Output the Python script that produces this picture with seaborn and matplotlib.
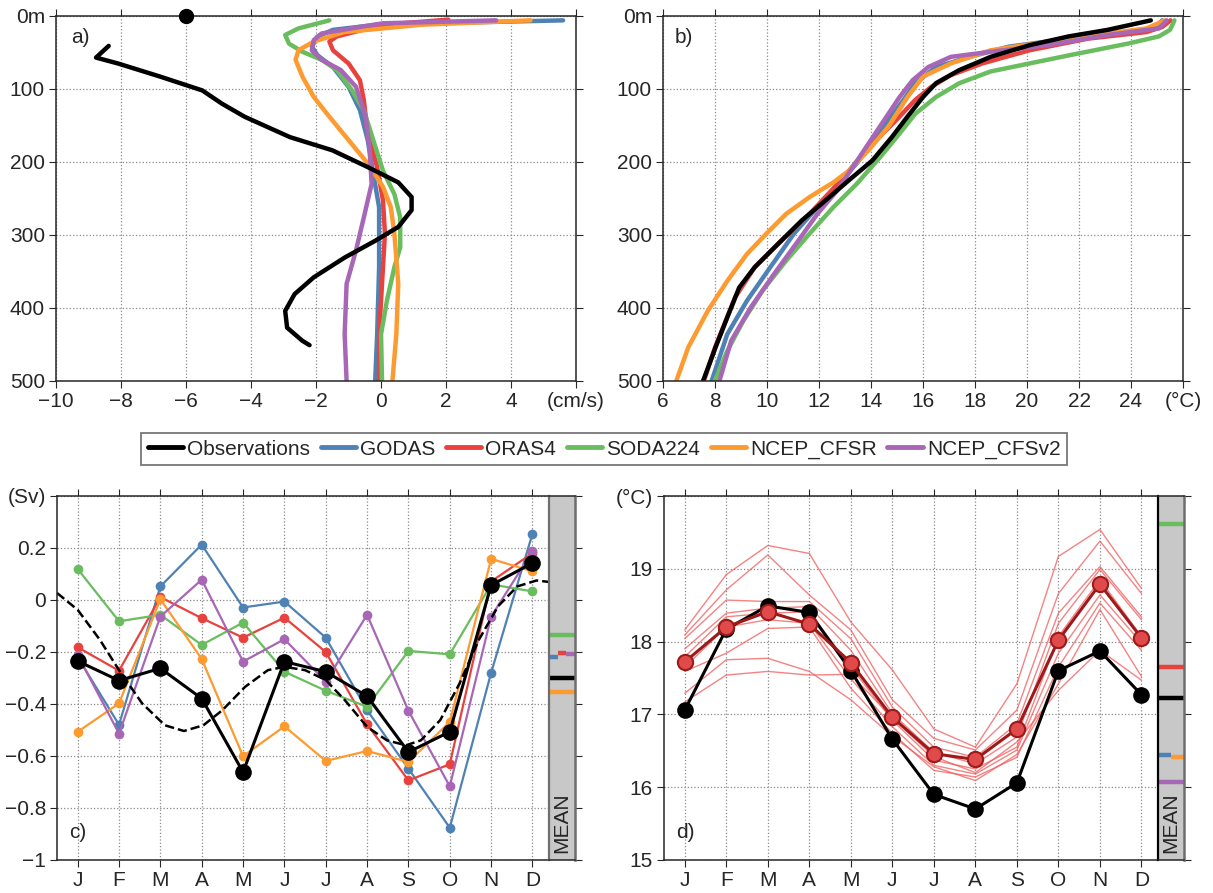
import numpy as np
import pandas as pd
import matplotlib
matplotlib.use('Agg')
import matplotlib.pyplot as plt
from matplotlib.lines import Line2D
import seaborn as sns

# ---- data ----
names = ['Observations', 'GODAS', 'ORAS4', 'SODA224', 'NCEP_CFSR', 'NCEP_CFSv2']
colors = ['black', '#4f82b4', '#e8423f', '#6abd5e', '#fd9a30', '#a866b6']

# a) velocity profiles (cm/s) vs depth (m)
obs_a_u = [-8.38, -8.77, -8.1, -6.8, -5.5, -4.9, -4.2, -2.8, -1.5, -0.41, 0.53, 0.94, 0.94, 0.53, -0.18, -1.12, -2.07, -2.66, -2.95, -2.89, -2.42, -2.2]
obs_a_z = [41, 57, 65, 83, 102, 120, 138, 166, 184, 207, 228, 248, 266, 289, 308, 331, 358, 381, 404, 427, 445, 451]
godas_a_u = [5.6, 3.6, 0.06, -1.48, -1.95, -2.13, -1.95, -1.48, -1.0, -0.65, -0.41, -0.24, -0.06, -0.06, -0.12, -0.18]
godas_a_z = [6, 8, 11, 19, 28, 42, 54, 70, 97, 129, 170, 216, 262, 344, 436, 500]
oras_a_u = [2.07, 0.06, -1.36, -1.59, -1.48, -1.0, -0.65, -0.53, -0.41, -0.12, 0.06, 0.12, 0.06, -0.06, -0.06]
oras_a_z = [5, 12, 28, 35, 47, 65, 88, 115, 161, 207, 253, 298, 344, 436, 500]
soda_a_u = [-1.59, -2.54, -2.95, -2.83, -2.42, -1.83, -1.36, -0.89, -0.53, -0.24, 0.06, 0.41, 0.59, 0.59, 0.41, 0.18, 0.0, 0.03]
soda_a_z = [6, 17, 26, 38, 49, 60, 74, 102, 129, 170, 212, 244, 276, 317, 344, 390, 436, 500]
cfsr_a_u = [4.6, 1.24, -1.12, -2.07, -2.54, -2.63, -2.42, -2.07, -1.59, -1.0, -0.41, 0.06, 0.30, 0.41, 0.53, 0.47, 0.35]
cfsr_a_z = [6, 12, 22, 35, 47, 60, 83, 111, 138, 170, 202, 234, 262, 298, 367, 436, 500]
cfsv2_a_u = [3.54, 0.06, -0.65, -1.83, -2.07, -2.13, -1.83, -1.24, -0.77, -0.47, -0.35, -0.29, -0.53, -0.77, -1.06, -1.12, -1.06]
cfsv2_a_z = [6, 10, 15, 24, 33, 47, 60, 74, 97, 138, 184, 230, 276, 321, 367, 436, 500]

# b) temperature profiles (degC) vs depth (m)
obs_b_t = [24.76, 23.1, 21.6, 20.1, 18.6, 17.4, 16.5, 16.0, 15.4, 14.8, 14.05, 13.15, 12.24, 11.34, 10.43, 9.53, 8.93, 8.47, 8.02, 7.54]
obs_b_z = [6, 19, 28, 40, 56, 74, 92, 111, 138, 166, 198, 225, 253, 280, 312, 344, 372, 413, 454, 500]
godas_b_t = [25.2, 24.9, 21.6, 19.3, 17.8, 16.5, 15.7, 15.25, 14.66, 14.05, 13.45, 12.85, 11.94, 11.04, 10.13, 9.23, 8.47, 7.87]
godas_b_z = [6, 17, 31, 42, 56, 70, 92, 115, 143, 170, 202, 225, 262, 298, 344, 390, 436, 500]
oras_b_t = [25.52, 25.2, 24.6, 22.35, 20.1, 18.28, 17.07, 16.32, 15.7, 14.96, 14.2, 13.6, 12.85, 11.64, 10.43, 9.53, 8.78, 8.0, 7.57]
oras_b_z = [6, 15, 22, 31, 47, 65, 81, 97, 115, 143, 170, 193, 225, 271, 312, 344, 385, 454, 500]
soda_b_t = [25.67, 25.5, 25.07, 23.86, 21.6, 20.1, 18.6, 17.4, 16.5, 15.7, 15.1, 14.36, 13.45, 12.55, 11.64, 10.74, 9.83, 9.08, 8.47, 7.99]
soda_b_z = [6, 19, 28, 38, 54, 65, 76, 92, 111, 134, 161, 193, 230, 262, 298, 335, 376, 418, 459, 500]
cfsr_b_t = [25.3, 24.6, 21.6, 18.6, 17.07, 16.0, 15.4, 14.66, 13.9, 13.15, 12.55, 11.64, 10.74, 9.98, 9.23, 8.47, 7.72, 6.97, 6.51]
cfsr_b_z = [6, 17, 31, 47, 65, 83, 111, 152, 184, 212, 228, 248, 271, 298, 326, 363, 404, 454, 500]
cfsv2_b_t = [25.37, 25.07, 23.1, 20.8, 18.6, 17.07, 16.2, 15.6, 15.1, 14.5, 13.9, 13.3, 12.7, 11.94, 11.2, 10.28, 9.38, 8.62, 8.17]
cfsv2_b_z = [6, 17, 26, 40, 49, 56, 70, 88, 111, 143, 175, 207, 239, 271, 308, 353, 399, 445, 500]

# c) monthly transport (Sv)
months = ['J', 'F', 'M', 'A', 'M', 'J', 'J', 'A', 'S', 'O', 'N', 'D']
obs_c = [-0.235, -0.31, -0.263, -0.379, -0.662, -0.237, -0.276, -0.37, -0.585, -0.507, 0.057, 0.142]
godas_c = [-0.22, -0.48, 0.052, 0.213, -0.029, -0.006, -0.145, -0.424, -0.649, -0.876, -0.28, 0.255]
oras_c = [-0.182, -0.272, 0.011, -0.07, -0.145, -0.068, -0.2, -0.478, -0.694, -0.632, 0.071, 0.18]
soda_c = [0.119, -0.082, -0.057, -0.173, -0.087, -0.276, -0.349, -0.411, -0.196, -0.209, 0.06, 0.033]
cfsr_c = [-0.507, -0.398, 0.003, -0.227, -0.601, -0.486, -0.619, -0.581, -0.623, -0.469, 0.158, 0.11]
cfsv2_c = [-0.212, -0.514, -0.064, 0.078, -0.237, -0.151, -0.314, -0.057, -0.426, -0.717, -0.064, 0.187]
dash_x = [0.5, 1.0, 1.54, 2.0, 2.56, 3.11, 3.57, 4.04, 4.5, 5.05, 5.6, 6.0, 6.5, 7.0, 7.46, 8.0, 8.48, 8.94, 9.3, 9.77, 10.24, 10.7, 11.17, 11.63, 12.1, 12.47]
dash_y = [0.027, -0.038, -0.154, -0.27, -0.398, -0.482, -0.504, -0.482, -0.424, -0.334, -0.27, -0.257, -0.27, -0.308, -0.385, -0.488, -0.54, -0.559, -0.54, -0.462, -0.32, -0.154, -0.024, 0.052, 0.075, 0.068]
mean_c = [-0.302, -0.218, -0.205, -0.134, -0.353, -0.208]

# d) monthly temperature (degC)
obs_d = [17.06, 18.17, 18.49, 18.40, 17.60, 16.66, 15.90, 15.70, 16.06, 17.60, 17.87, 17.27]
ens_mean_d = [17.72, 18.20, 18.41, 18.24, 17.71, 16.96, 16.46, 16.38, 16.80, 18.02, 18.79, 18.05]
members_d = [
    [18.16, 18.92, 19.32, 19.21, 18.27, 17.61, 16.80, 16.55, 17.42, 19.17, 19.54, 18.73],
    [18.09, 18.71, 19.19, 18.64, 18.16, 17.20, 16.67, 16.51, 17.06, 18.66, 19.38, 18.66],
    [18.04, 18.57, 18.55, 18.55, 18.04, 17.10, 16.55, 16.41, 16.87, 18.39, 19.03, 18.34],
    [17.90, 18.39, 18.46, 18.48, 17.88, 17.01, 16.48, 16.32, 16.69, 18.25, 18.99, 18.30],
    [17.79, 18.34, 18.39, 18.41, 17.65, 16.92, 16.37, 16.25, 16.55, 18.07, 18.85, 18.07],
    [17.65, 18.20, 18.30, 18.25, 17.49, 16.83, 16.30, 16.18, 16.51, 17.84, 18.64, 17.98],
    [17.59, 17.84, 18.18, 18.20, 17.36, 16.74, 16.23, 16.14, 16.41, 17.65, 18.53, 17.88],
    [17.29, 17.75, 17.77, 17.59, 17.20, 16.70, 16.28, 16.09, 16.45, 17.42, 18.44, 17.52],
    [17.17, 17.54, 17.59, 17.54, 17.55, 16.95, 16.42, 16.20, 16.62, 17.33, 17.88, 17.47],
]
mean_d = [17.23, 16.44, 17.65, 19.62, 16.42, 16.07]

# ---- style ----
sns.set_style('ticks')
plt.rcParams['font.family'] = ['Liberation Sans', 'DejaVu Sans']
plt.rcParams['font.size'] = 15
plt.rcParams['axes.linewidth'] = 1.1
pal = dict(zip(names, colors))
grid_kw = dict(ls=':', color='#8a8a8a', lw=0.9)

fig = plt.figure(figsize=(12.13, 8.93), dpi=100)
ax_a = fig.add_axes([0.0462, 0.5734, 0.4287, 0.4087])
ax_b = fig.add_axes([0.5466, 0.5734, 0.4287, 0.4087])
ax_c = fig.add_axes([0.0470, 0.0370, 0.4056, 0.4076])
ax_cm = fig.add_axes([0.4526, 0.0370, 0.0214, 0.4076])
ax_d = fig.add_axes([0.5474, 0.0370, 0.4073, 0.4076])
ax_dm = fig.add_axes([0.9547, 0.0370, 0.0214, 0.4076])


def profile_df(pairs):
    rows = []
    for name, (v, z) in zip(names, pairs):
        rows.append(pd.DataFrame({'src': name, 'val': v, 'depth': z}))
    return pd.concat(rows, ignore_index=True)


df_a = profile_df([(obs_a_u, obs_a_z), (godas_a_u, godas_a_z), (oras_a_u, oras_a_z),
                   (soda_a_u, soda_a_z), (cfsr_a_u, cfsr_a_z), (cfsv2_a_u, cfsv2_a_z)])
df_b = profile_df([(obs_b_t, obs_b_z), (godas_b_t, godas_b_z), (oras_b_t, oras_b_z),
                   (soda_b_t, soda_b_z), (cfsr_b_t, cfsr_b_z), (cfsv2_b_t, cfsv2_b_z)])

for ax, df in [(ax_a, df_a), (ax_b, df_b)]:
    # observations drawn last so they sit on top
    for name in names[1:] + names[:1]:
        sub = df[df.src == name]
        sns.lineplot(data=sub, x='val', y='depth', orient='y', sort=False, estimator=None,
                     color=pal[name], lw=3.2, ax=ax, legend=False)
    ax.set_ylim(500, 0)
    ax.set_yticks([0, 100, 200, 300, 400, 500], ['0m', '100', '200', '300', '400', '500'])
    ax.grid(True, **grid_kw)
    ax.set_xlabel('')
    ax.set_ylabel('')
    ax.tick_params(direction='out', length=5, top=True, right=True, labelsize=15, pad=3)

ax_a.plot([-6], [0], 'o', color='black', ms=10, clip_on=False, zorder=10)
ax_a.set_xlim(-10, 6)
ax_a.set_xticks(range(-10, 7, 2), ['\u221210', '\u22128', '\u22126', '\u22124', '\u22122', '0', '2', '4', '(cm/s)'])
ax_b.set_xlim(6, 26)
ax_b.set_xticks(range(6, 27, 2), [str(v) for v in range(6, 25, 2)] + ['(\u00b0C)'])
ax_a.text(0.046, 0.94, 'a)', transform=ax_a.transAxes, ha='center', va='center', fontsize=15)
ax_b.text(0.040, 0.94, 'b)', transform=ax_b.transAxes, ha='center', va='center', fontsize=15)

# c)
x_m = np.arange(1, 13)
series_c = [godas_c, oras_c, soda_c, cfsr_c, cfsv2_c]
for name, vals in zip(names[1:], series_c):
    sns.lineplot(x=x_m, y=vals, color=pal[name], lw=1.6, marker='o', ms=7, mew=0,
                 ax=ax_c, legend=False)
sns.lineplot(x=dash_x, y=dash_y, color='black', lw=1.8, ls='--', sort=False, estimator=None,
             ax=ax_c, legend=False)
sns.lineplot(x=x_m, y=obs_c, color='black', lw=2.2, marker='o', ms=12, mew=0, ax=ax_c, legend=False)
ax_c.set_ylim(-1, 0.4)
ax_c.set_yticks([-1, -0.8, -0.6, -0.4, -0.2, 0, 0.2, 0.4],
                ['\u22121', '\u22120.8', '\u22120.6', '\u22120.4', '\u22120.2', '0', '0.2', '(Sv)'])
ax_c.text(0.043, 0.075, 'c)', transform=ax_c.transAxes, ha='center', va='center', fontsize=15)

# d)
for mem in members_d:
    sns.lineplot(x=x_m, y=mem, color='#f05a5a', lw=1.0, alpha=0.75, ax=ax_d, legend=False)
sns.lineplot(x=x_m, y=obs_d, color='black', lw=2.2, marker='o', ms=12, mew=0, ax=ax_d, legend=False)
sns.lineplot(x=x_m, y=ens_mean_d, color='#9e1a1a', lw=2.2, marker='o', ms=11,
             mfc='#e04a4a', mec='#9e1a1a', mew=1.5, ax=ax_d, legend=False)
ax_d.set_ylim(15, 20)
ax_d.set_yticks([15, 16, 17, 18, 19, 20], ['15', '16', '17', '18', '19', '(\u00b0C)'])
ax_d.text(0.043, 0.075, 'd)', transform=ax_d.transAxes, ha='center', va='center', fontsize=15)

for ax in [ax_c, ax_d]:
    ax.set_xlim(0.5, 12.4)
    ax.set_xticks(x_m, months)
    ax.grid(True, **grid_kw)
    ax.spines['right'].set_visible(False)
    ax.tick_params(direction='out', length=5, top=True, labelsize=15, pad=3)

# MEAN side bars
spans_c = [(0, 1), (0, 0.33), (0.33, 0.67), (0, 1), (0, 1), (0.67, 1)]
spans_d = [(0, 1), (0, 0.5), (0, 1), (0, 1), (0.5, 1), (0, 1)]
for axm, axp, means, spans, edge in [(ax_cm, ax_c, mean_c, spans_c, '#6e6e6e'),
                                     (ax_dm, ax_d, mean_d, spans_d, 'black')]:
    axm.set_facecolor('#c8c8c8')
    axm.set_xlim(0, 1)
    axm.set_ylim(axp.get_ylim())
    axm.set_xticks([])
    axm.set_yticks(axp.get_yticks())
    axm.yaxis.tick_right()
    axm.tick_params(axis='y', direction='out', length=5, labelright=False)
    axm.spines['left'].set_color(edge)
    axm.spines['left'].set_linewidth(1.6)
    axm.spines['right'].set_color('#6e6e6e')
    axm.spines['right'].set_linewidth(1.8)
    for k in [1, 2, 5, 4, 3, 0]:
        lo, hi = spans[k]
        axm.hlines(means[k], lo, hi, color=colors[k], lw=3.2)
    axm.text(0.5, 0.02, 'MEAN', rotation=90, ha='center', va='bottom',
             transform=axm.transAxes, fontsize=15)

handles = [Line2D([0], [0], color=c, lw=3.5) for c in colors]
leg = fig.legend(handles, names, loc='center', bbox_to_anchor=(0.498, 0.497), ncol=6,
                 frameon=True, fancybox=False, edgecolor='#555555', fontsize=15,
                 handlelength=1.7, handletextpad=0.2, columnspacing=0.5,
                 borderpad=0.3, borderaxespad=0.2)
leg.get_frame().set_linewidth(1.3)

fig.savefig('out.png', dpi=100)
